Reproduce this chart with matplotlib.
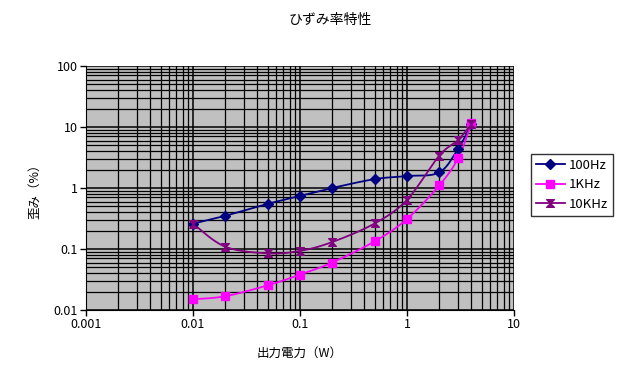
import numpy as np
import matplotlib
matplotlib.use("Agg")
import matplotlib.pyplot as plt
from matplotlib.path import Path
from matplotlib.ticker import LogLocator, FixedLocator, NullFormatter

plt.rcParams['font.family'] = ['Noto Sans CJK JP', 'DejaVu Sans']

power = [0.01, 0.02, 0.05, 0.1, 0.2, 0.5, 1, 2, 3, 4]
thd_100hz = [0.26, 0.35, 0.55, 0.74, 1.0, 1.4, 1.57, 1.8, 4.4, 11.0]
thd_1khz = [0.015, 0.0168, 0.0254, 0.038, 0.06, 0.134, 0.31, 1.1, 3.07, 11.5]
thd_10khz = [0.26, 0.109, 0.085, 0.093, 0.13, 0.263, 0.64, 3.4, 6.1, 11.3]
series_names = ['100Hz', '1KHz', '10KHz']
xticks = [0.001, 0.01, 0.1, 1, 10]
xticklabels = ['0.001', '0.01', '0.1', '1', '10']
yticks = [0.01, 0.1, 1, 10, 100]
yticklabels = ['0.01', '0.1', '1', '10', '100']

hourglass = Path([(-1, 1), (1, 1), (-1, -1), (1, -1), (-1, 1)],
                 [Path.MOVETO, Path.LINETO, Path.LINETO, Path.LINETO, Path.CLOSEPOLY])


def smooth(xs, ys, n=20):
    lx = np.log10(xs)
    ly = np.log10(ys)
    pts = np.column_stack([lx, ly])
    p = np.vstack([pts[0], pts, pts[-1]])
    out = []
    for i in range(1, len(p) - 2):
        p0, p1, p2, p3 = p[i - 1], p[i], p[i + 1], p[i + 2]
        t = np.linspace(0, 1, n, endpoint=False)[:, None]
        c = 0.5 * ((2 * p1) + (-p0 + p2) * t + (2 * p0 - 5 * p1 + 4 * p2 - p3) * t ** 2
                   + (-p0 + 3 * p1 - 3 * p2 + p3) * t ** 3)
        out.append(c)
    out.append(pts[-1][None, :])
    c = np.vstack(out)
    return 10 ** c[:, 0], 10 ** c[:, 1]


fig = plt.figure(figsize=(6.33, 3.68), dpi=100)
ax = fig.add_axes([86 / 633, 1 - 310 / 368, (514 - 86) / 633, (310 - 66) / 368])
ax.set_facecolor('#C0C0C0')
ax.set_xscale('log')
ax.set_yscale('log')
ax.set_xlim(0.001, 10)
ax.set_ylim(0.01, 100)

styles = [
    (thd_100hz, '#000080', 'D', 5),
    (thd_1khz, '#FF00FF', 's', 6),
    (thd_10khz, '#800080', hourglass, 5.5),
]
for (vals, col, mk, ms), name in zip(styles, series_names):
    sx, sy = smooth(power, vals)
    ax.plot(sx, sy, color=col, lw=1.3, zorder=3)
    ax.plot(power, vals, linestyle='none', marker=mk, ms=ms, color=col,
            markeredgecolor=col, zorder=4)
    ax.plot([], [], color=col, lw=1.3, marker=mk, ms=ms, markeredgecolor=col, label=name)

ax.xaxis.set_major_locator(FixedLocator(xticks))
ax.set_xticklabels(xticklabels)
ax.yaxis.set_major_locator(FixedLocator(yticks))
ax.set_yticklabels(yticklabels)
ax.xaxis.set_minor_locator(LogLocator(base=10, subs=np.arange(2, 10)))
ax.yaxis.set_minor_locator(LogLocator(base=10, subs=np.arange(2, 10)))
ax.xaxis.set_minor_formatter(NullFormatter())
ax.yaxis.set_minor_formatter(NullFormatter())
ax.grid(True, which='major', color='black', lw=1.1)
ax.grid(True, which='minor', color='black', lw=0.9)
ax.set_axisbelow(True)
ax.tick_params(which='minor', length=0)
ax.tick_params(which='major', length=4, width=1, direction='out', labelsize=9, pad=2)
for s in ['top', 'right']:
    ax.spines[s].set_visible(False)
for s in ['left', 'bottom']:
    ax.spines[s].set_color('black')

fig.text(330 / 633, 1 - 20 / 368, 'ひずみ率特性', ha='center', va='center', fontsize=10)
fig.text(300 / 633, 1 - 353 / 368, '出力電力（W）', ha='center', va='center', fontsize=9)
fig.text(35 / 633, 1 - 188 / 368, '歪み（%）', ha='center', va='center', fontsize=9, rotation=90)

leg = fig.legend(loc='center', bbox_to_anchor=(572 / 633, 1 - 185 / 368), frameon=True,
                 fancybox=False, edgecolor='black', fontsize=9.5, handlelength=2.2,
                 borderpad=0.4, labelspacing=0.5, handletextpad=0.3, borderaxespad=0)
leg.get_frame().set_linewidth(1.0)

fig.savefig('out.png', dpi=100)
